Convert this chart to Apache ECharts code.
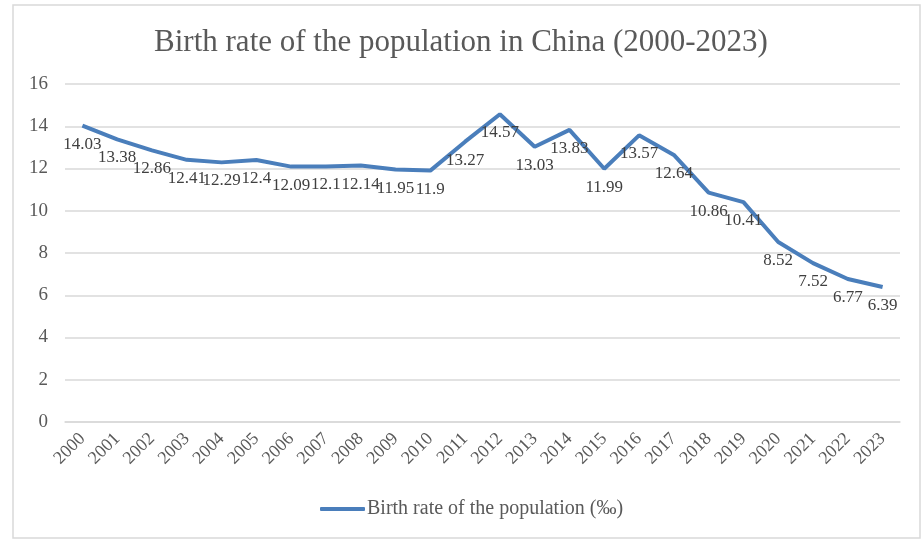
<!DOCTYPE html>
<html>
<head>
<meta charset="utf-8">
<script src="https://cdn.jsdelivr.net/npm/echarts@6/dist/echarts.min.js"></script>
<style>
  html, body { margin: 0; padding: 0; background: #fff; }
  #chart { width: 922px; height: 540px; }
</style>
</head>
<body>
<div id="chart"></div>
<script>
  var years = ['2000', '2001', '2002', '2003', '2004', '2005', '2006', '2007', '2008', '2009', '2010', '2011',
    '2012', '2013', '2014', '2015', '2016', '2017', '2018', '2019', '2020', '2021', '2022', '2023'];
  var birthRate = [14.03, 13.38, 12.86, 12.41, 12.29, 12.4, 12.09, 12.1, 12.14, 11.95, 11.9, 13.27,
    14.57, 13.03, 13.83, 11.99, 13.57, 12.64, 10.86, 10.41, 8.52, 7.52, 6.77, 6.39];
  var seriesName = 'Birth rate of the population (‰)';

  var serif = '"Liberation Serif", "DejaVu Serif", serif';
  var myChart = echarts.init(document.getElementById('chart'));
  myChart.setOption({
    animation: false,
    graphic: [{
      type: 'rect',
      shape: { x: 13, y: 5, width: 907, height: 533 },
      style: { fill: 'none', stroke: '#d9d9d9', lineWidth: 1.5 },
      z: -1
    }],
    title: {
      text: 'Birth rate of the population in China (2000-2023)',
      left: 'center',
      top: 22,
      textStyle: { fontFamily: serif, fontWeight: 'normal', fontSize: 31, color: '#595959' }
    },
    grid: { left: 65, right: 22, top: 84, bottom: 118 },
    legend: {
      bottom: 16,
      left: 315,
      itemWidth: 45,
      itemHeight: 4,
      icon: 'roundRect',
      itemGap: 0,
      textStyle: { fontFamily: serif, fontSize: 20, color: '#595959', padding: [0, 0, 0, -3] },
      data: [seriesName]
    },
    xAxis: {
      type: 'category',
      data: years,
      axisTick: { show: false },
      axisLine: { lineStyle: { color: '#d9d9d9', width: 1.5 } },
      axisLabel: { rotate: 45, fontFamily: serif, fontSize: 18, color: '#595959', margin: 14, interval: 0 }
    },
    yAxis: {
      type: 'value',
      min: 0,
      max: 16,
      interval: 2,
      axisLine: { show: false },
      axisTick: { show: false },
      splitLine: { lineStyle: { color: '#d9d9d9', width: 1.5 } },
      axisLabel: { fontFamily: serif, fontSize: 19, color: '#595959', margin: 17 }
    },
    series: [{
      name: seriesName,
      type: 'line',
      data: birthRate,
      symbol: 'circle',
      symbolSize: 0,
      showSymbol: true,
      lineStyle: { color: '#4a7ebb', width: 4 },
      itemStyle: { color: '#4a7ebb' },
      label: {
        show: true,
        position: 'bottom',
        distance: 10,
        fontFamily: serif,
        fontSize: 17,
        color: '#404040'
      }
    }]
  });
</script>
</body>
</html>
